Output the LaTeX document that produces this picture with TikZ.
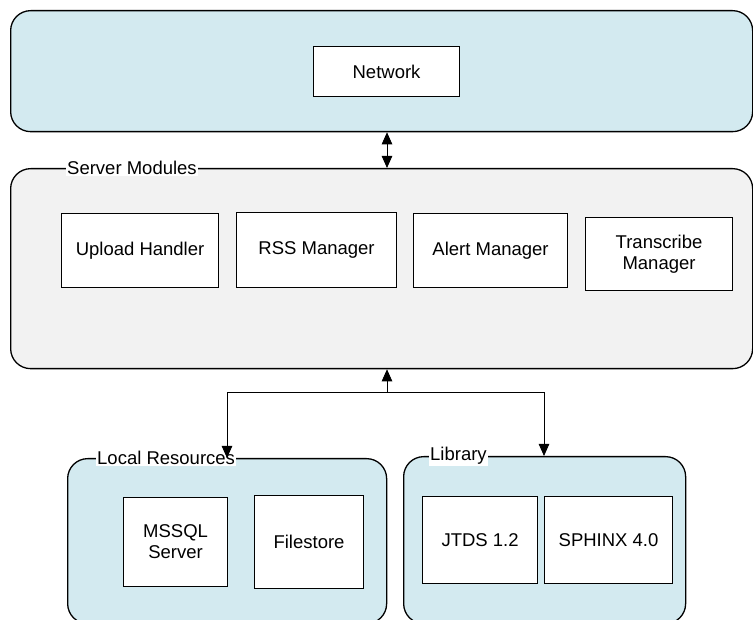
\documentclass[tikz,border=0pt]{standalone}
\usepackage{fontspec}
\setmainfont{Liberation Sans}
\usetikzlibrary{arrows.meta}
\definecolor{paleblue}{HTML}{D3EAF0}
\definecolor{palegray}{HTML}{F2F2F2}
\begin{document}
\begin{tikzpicture}[x=1pt,y=-1pt,
  font=\fontsize{18.5}{21}\selectfont,
  group/.style={draw=black,line width=1.3pt,rounded corners=20pt,anchor=north west,inner sep=0pt},
  comp/.style={draw=black,line width=1.1pt,fill=white,anchor=north west,inner sep=0pt,align=center},
  grouplabel/.style={fill=white,inner sep=1pt,anchor=west},
  conn/.style={line width=0.8pt,-{Triangle[length=12pt,width=10.5pt]}},
  conn2/.style={line width=0.8pt,{Triangle[length=12pt,width=10.5pt]}-{Triangle[length=12pt,width=10.5pt]}}]
\useasboundingbox (0,0) rectangle (753,620);
% groups
\node[group,fill=paleblue,minimum width=742pt,minimum height=121pt] (top) at (10,10) {};
\node[group,fill=palegray,minimum width=742pt,minimum height=200pt] (server) at (10,168) {};
\node[group,fill=paleblue,minimum width=319pt,minimum height=165pt] (local) at (67,458) {};
\node[group,fill=paleblue,minimum width=282pt,minimum height=167pt] (library) at (403,456) {};
% group labels
\node[grouplabel] (lserver) at (66,168) {Server Modules};
\node[grouplabel] (llocal) at (96,458) {Local Resources};
\node[grouplabel] (llib) at (429,456) {Library};
% components
\node[comp,minimum width=146pt,minimum height=50pt] (network) at (313,46) {Network};
\node[comp,minimum width=157pt,minimum height=74pt] (upload) at (61,213) {Upload Handler};
\node[comp,minimum width=160pt,minimum height=75pt] (rss) at (236,212) {RSS Manager};
\node[comp,minimum width=154pt,minimum height=74pt] (alert) at (413,213) {Alert Manager};
\node[comp,minimum width=147pt,minimum height=73pt] (transcribe) at (585,217) {Transcribe\\Manager};
\node[comp,minimum width=104pt,minimum height=89pt] (mssql) at (123,497) {MSSQL\\Server};
\node[comp,minimum width=109pt,minimum height=93pt] (filestore) at (254,495) {Filestore};
\node[comp,minimum width=115pt,minimum height=87pt] (jtds) at (422,496) {JTDS 1.2};
\node[comp,minimum width=128pt,minimum height=87pt] (sphinx) at (544,496) {SPHINX 4.0};
% connectors
\draw[conn2] (top.south -| 387,0) -- (server.north -| 387,0);
\coordinate (j) at (387,392);
\coordinate (jl) at (227,392);
\coordinate (jr) at (544,392);
\draw[conn] (j) -- (j |- server.south);
\draw[conn2] (local.north -| jl) -- (jl) -- (jr) -- (library.north -| jr);
\end{tikzpicture}
\end{document}
